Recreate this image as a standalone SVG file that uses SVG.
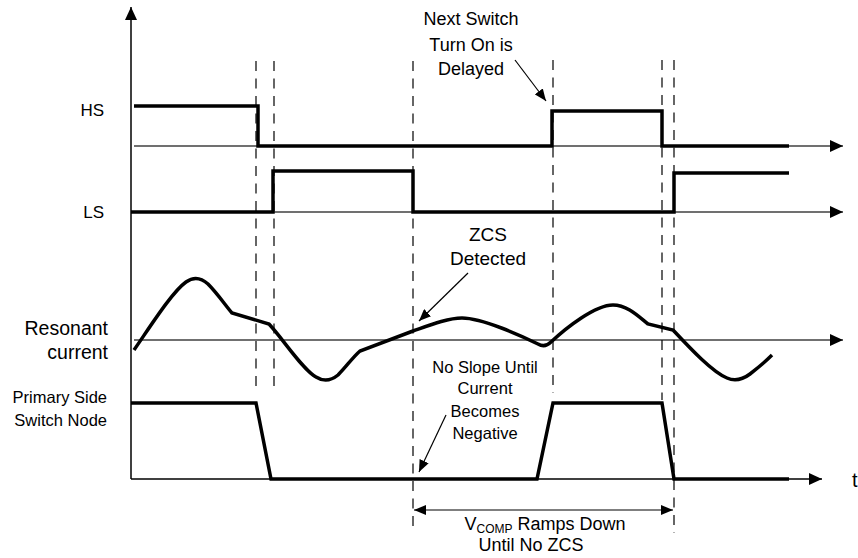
<svg xmlns="http://www.w3.org/2000/svg" width="858" height="558" viewBox="0 0 858 558">
<style>
text{font-family:"Liberation Sans",Arial,sans-serif;fill:#000}
.lbl{font-size:17px;text-anchor:end}
.res{font-size:19.5px;text-anchor:end}
.psn{font-size:16.5px;text-anchor:end}
.ann{font-size:18px;text-anchor:middle}
.ann2{font-size:16.5px;text-anchor:middle}
.wave{fill:none;stroke:#000;stroke-width:3.5;stroke-linejoin:miter;stroke-linecap:butt}
.axis{fill:none;stroke:#000;stroke-width:1.5}
.thin{fill:none;stroke:#404040;stroke-width:1.3}
.dash{fill:none;stroke:#000;stroke-width:1.2;stroke-dasharray:10 7.5}
.ptr{fill:none;stroke:#000;stroke-width:1.2}
</style>
<defs>
<marker id="axArrow" markerUnits="userSpaceOnUse" markerWidth="13" markerHeight="12" refX="13" refY="6" orient="auto">
<path d="M0,0 L13,6 L0,12 z" fill="#000"/>
</marker>
<marker id="ptrArrow" markerUnits="userSpaceOnUse" markerWidth="12" markerHeight="10" refX="12" refY="5" orient="auto-start-reverse">
<path d="M0,0 L12,5 L0,10 z" fill="#000"/>
</marker>
</defs>

<g id="axes">
<line class="axis" x1="131" y1="479" x2="131" y2="7" marker-end="url(#axArrow)"/>
<line class="thin" x1="134" y1="146" x2="843" y2="146" marker-end="url(#axArrow)"/>
<line class="thin" x1="131" y1="212" x2="843" y2="212" marker-end="url(#axArrow)"/>
<line class="thin" x1="134" y1="340" x2="843" y2="340" marker-end="url(#axArrow)"/>
<line class="axis" x1="131" y1="479" x2="822" y2="479" marker-end="url(#axArrow)"/>
<text x="852" y="487" style="font-size:20px">t</text>
</g>

<g id="timing-markers">
<line class="dash" x1="256" y1="61" x2="256" y2="393"/>
<line class="dash" x1="274" y1="61" x2="274" y2="393"/>
<line class="dash" x1="413" y1="61" x2="413" y2="533"/>
<line class="dash" x1="553" y1="60" x2="553" y2="393"/>
<line class="dash" x1="662" y1="60" x2="662" y2="400"/>
<line class="dash" x1="674" y1="60" x2="674" y2="533"/>
</g>

<g id="hs">
<text class="lbl" x="104" y="116">HS</text>
<path class="wave" d="M134,106 L258,106 L258,146 L552,146 L552,111 L662,111 L662,146 L789,146"/>
</g>

<g id="ls">
<text class="lbl" x="104" y="218">LS</text>
<path class="wave" d="M131,212 L273,212 L273,171 L413,171 L413,212 L674,212 L674,173 L789,173"/>
</g>

<g id="resonant-current">
<text class="res" x="108" y="335">Resonant</text>
<text class="res" x="108" y="359">current</text>
<path class="wave" d="M134,350 C150,327 172,292 186,282 Q197,274 208,284 C217,293 226,306 232,313 L269,324 C283,339 303,370 316,377 Q327,384 338,375 C346,367 353,357 360,351 L413,331 C430,325 448,318 462,318 C482,318 522,336 538,344 Q545,348 551,342 C566,328 595,305 613,305 C628,305 640,318 648,324 L673,330 C688,346 712,372 727,378 Q738,383 750,374 C759,367 767,360 772,355"/>
</g>

<g id="primary-side-switch-node">
<text class="psn" x="107" y="403">Primary Side</text>
<text class="psn" x="107" y="426">Switch Node</text>
<path class="wave" d="M131,403 L256,403 L271,479 L537,479 L553,403 L662,403 L674,479 L789,479"/>
</g>

<g id="note-delayed">
<text class="ann" x="471" y="25">Next Switch</text>
<text class="ann" x="471" y="51">Turn On is</text>
<text class="ann" x="471" y="75">Delayed</text>
</g>

<g id="note-zcs">
<text class="ann" x="488" y="241" style="font-size:19px">ZCS</text>
<text class="ann" x="488" y="265" style="font-size:19px">Detected</text>
</g>

<g id="note-noslope">
<text class="ann2" x="485" y="373">No Slope Until</text>
<text class="ann2" x="485" y="394">Current</text>
<text class="ann2" x="485" y="417">Becomes</text>
<text class="ann2" x="485" y="439">Negative</text>
</g>

<g id="note-vcomp">
<text class="ann" x="545" y="530">V<tspan style="font-size:12px" dy="3">COMP</tspan><tspan dy="-3"> Ramps Down</tspan></text>
<text class="ann" x="531" y="551">Until No ZCS</text>
</g>

<g id="connectors">
<line class="ptr" x1="515" y1="60" x2="546" y2="101" marker-end="url(#ptrArrow)"/>
<line class="ptr" x1="468" y1="273" x2="419" y2="321" marker-end="url(#ptrArrow)"/>
<line class="ptr" x1="446" y1="415" x2="419" y2="472" marker-end="url(#ptrArrow)"/>
<line class="ptr" x1="414" y1="510" x2="673" y2="510" marker-start="url(#ptrArrow)" marker-end="url(#ptrArrow)"/>
</g>
</svg>
